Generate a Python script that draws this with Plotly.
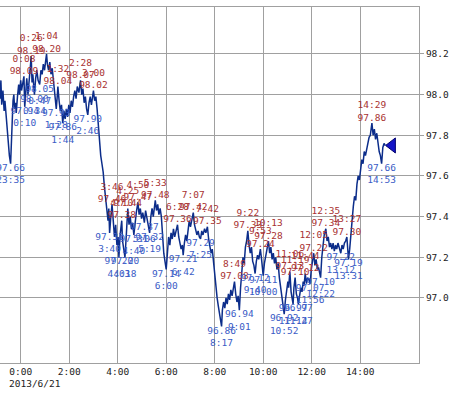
import plotly.graph_objects as go

# ---- price series (time HH:MM, 22:xx/23:xx belong to 2013/6/20) ----
times = [
 "22:50","22:55","22:58","23:02","23:05","23:09","23:11","23:13","23:16","23:19","23:21","23:24","23:27","23:29","23:32","23:35",
 "23:37","23:39","23:41","23:43","23:45","23:47","23:49","23:52","23:55","23:57","0:00","0:02","0:05","0:08","0:10","0:12",
 "0:15","0:18","0:21","0:24","0:26","0:28","0:30","0:34","0:37","0:40","0:43","0:47","0:50","0:53","0:56","0:59",
 "1:02","1:04","1:06","1:09","1:12","1:15","1:18","1:21","1:24","1:28","1:30","1:32","1:35","1:38","1:41","1:44",
 "1:47","1:50","1:53","1:56","1:59","2:02","2:05","2:08","2:11","2:14","2:17","2:20","2:24","2:28","2:31","2:34",
 "2:37","2:40","2:43","2:46","2:49","2:52","2:55","2:58","3:00","3:03","3:06","3:09","3:12","3:15","3:18","3:21",
 "3:24","3:27","3:30","3:33","3:36","3:38","3:40","3:43","3:46","3:49","3:52","3:55","3:58","4:01","4:03","4:06",
 "4:08","4:10","4:12","4:15","4:18","4:21","4:25","4:28","4:31","4:34","4:37","4:40","4:43","4:46","4:50","4:53",
 "4:56","4:59","5:02","5:06","5:09","5:12","5:15","5:19","5:22","5:25","5:28","5:31","5:33","5:36","5:39","5:42",
 "5:45","5:48","5:51","5:54","5:57","6:00","6:03","6:06","6:09","6:12","6:15","6:18","6:21","6:24","6:28","6:31",
 "6:34","6:37","6:40","6:42","6:45","6:48","6:51","6:54","6:57","7:00","7:03","7:07","7:10","7:13","7:16","7:19",
 "7:22","7:25","7:28","7:31","7:35","7:38","7:42","7:45","7:48","7:51","7:54","7:57","8:00","8:03","8:06","8:09",
 "8:12","8:15","8:17","8:19","8:22","8:25","8:28","8:31","8:34","8:37","8:40","8:43","8:46","8:49","8:52","8:55",
 "8:58","9:01","9:04","9:07","9:10","9:13","9:16","9:19","9:22","9:25","9:28","9:31","9:34","9:37","9:40","9:43",
 "9:46","9:49","9:53","9:56","9:58","10:00","10:03","10:06","10:09","10:13","10:16","10:19","10:22","10:25","10:28","10:31",
 "10:34","10:37","10:40","10:43","10:46","10:49","10:52","10:55","10:58","11:01","11:03","11:06","11:09","11:11","11:14","11:16",
 "11:19","11:22","11:25","11:27","11:30","11:33","11:36","11:39","11:41","11:44","11:47","11:50","11:53","11:56","11:59","12:02",
 "12:05","12:08","12:11","12:14","12:17","12:20","12:22","12:25","12:28","12:31","12:35","12:38","12:41","12:44","12:47","12:50",
 "12:53","12:56","12:59","13:02","13:05","13:08","13:12","13:15","13:18","13:21","13:24","13:27","13:29","13:31","13:34","13:37",
 "13:40","13:43","13:46","13:49","13:52","13:55","13:58","14:01","14:04","14:07","14:10","14:13","14:16","14:19","14:22","14:25",
 "14:29","14:32","14:35","14:38","14:41","14:44","14:47","14:50","14:53","14:56","14:59","15:02",
]
prices = [
 97.90,97.72,97.95,98.20,98.05,97.98,98.07,97.95,98.02,97.92,97.97,97.90,97.80,97.74,97.70,97.66,
 97.78,97.86,97.97,98.00,97.93,97.96,97.91,97.99,98.05,98.00,98.07,98.02,98.06,98.09,97.94,98.02,
 98.08,98.00,98.10,98.14,98.19,98.06,98.10,98.00,98.08,98.12,98.07,98.05,98.12,98.10,98.15,98.12,
 98.17,98.20,98.15,98.12,98.16,98.10,98.13,98.06,98.00,97.93,97.98,98.04,97.97,97.92,97.95,97.86,
 97.92,97.88,97.93,97.89,97.95,97.91,97.97,97.94,97.99,98.02,97.98,98.04,98.01,98.07,98.00,98.03,
 97.96,97.99,97.93,97.90,97.96,97.99,97.95,98.00,98.02,97.97,97.99,97.93,97.85,97.75,97.70,97.66,
 97.62,97.55,97.50,97.42,97.38,97.44,97.32,97.40,97.46,97.38,97.30,97.36,97.26,97.30,97.20,97.31,
 97.35,97.38,97.28,97.24,97.20,97.30,97.44,97.36,97.40,97.34,97.37,97.31,97.38,97.42,97.47,97.41,
 97.44,97.39,97.42,97.37,97.43,97.40,97.36,97.32,97.40,97.44,97.40,97.45,97.48,97.43,97.46,97.41,
 97.44,97.40,97.30,97.22,97.18,97.14,97.22,97.30,97.26,97.32,97.29,97.34,97.30,97.33,97.36,97.30,
 97.27,97.24,97.26,97.21,97.27,97.31,97.28,97.34,97.38,97.35,97.39,97.42,97.36,97.33,97.31,97.33,
 97.30,97.29,97.33,97.31,97.34,97.32,97.35,97.29,97.26,97.22,97.24,97.17,97.10,97.05,97.00,96.96,
 96.92,96.90,96.86,96.94,96.98,96.95,97.00,96.97,97.02,96.99,97.04,97.01,97.05,97.08,97.02,96.98,
 97.01,96.94,97.05,97.14,97.20,97.17,97.25,97.28,97.33,97.26,97.22,97.25,97.18,97.16,97.12,97.18,
 97.21,97.19,97.24,97.19,97.15,97.11,97.17,97.21,97.24,97.28,97.22,97.25,97.19,97.22,97.17,97.20,
 97.14,97.17,97.10,97.05,97.00,96.96,96.92,96.99,97.04,97.08,97.05,97.13,97.03,97.00,96.97,97.05,
 97.10,97.02,97.00,96.97,97.02,97.05,97.03,97.08,97.06,97.12,97.07,97.10,97.09,97.07,97.14,97.18,
 97.22,97.16,97.19,97.14,97.15,97.12,97.10,97.20,97.27,97.31,97.34,97.28,97.30,97.25,97.27,97.24,
 97.27,97.23,97.26,97.24,97.27,97.25,97.22,97.26,97.24,97.27,97.28,97.30,97.24,97.19,97.24,97.32,
 97.38,97.45,97.50,97.48,97.56,97.60,97.58,97.64,97.68,97.66,97.72,97.70,97.74,97.76,97.79,97.80,
 97.86,97.80,97.83,97.78,97.81,97.76,97.72,97.70,97.66,97.74,97.76,97.75,
]

# ---- labelled local highs / lows ----
high_times = ["23:02","0:08","0:26","1:04","1:32","2:28","3:00","3:46","4:10","4:25","4:50","5:33",
              "6:28","7:07","7:42","8:49","9:22","9:53","10:13","11:06","11:19","11:44","12:05","12:35","13:27","14:29"]
high_vals = [98.20,98.09,98.19,98.20,98.04,98.07,98.02,97.46,97.38,97.44,97.47,97.48,
             97.36,97.42,97.35,97.08,97.33,97.24,97.28,97.13,97.10,97.12,97.22,97.34,97.30,97.86]
low_times = ["22:55","23:35","0:10","0:34","0:47","1:28","1:44","2:46","3:40","4:03","4:18","4:40","5:06","5:19",
             "6:00","6:42","7:25","8:17","9:01","9:40","10:00","10:52","11:14","11:27","11:56","12:22","13:12","13:31","14:53"]
low_vals = [97.72,97.66,97.94,98.00,98.05,97.93,97.86,97.90,97.32,97.20,97.20,97.31,97.37,97.32,
            97.14,97.21,97.29,96.86,96.94,97.12,97.11,96.92,96.97,96.97,97.07,97.10,97.22,97.19,97.66]

y_ticks = [97.0, 97.2, 97.4, 97.6, 97.8, 98.0, 98.2]
x_ticks = ["0:00", "2:00", "4:00", "6:00", "8:00", "10:00", "12:00", "14:00"]
date_label = "2013/6/21"


def ts(hm):
    h, m = hm.split(":")
    day = "2013-06-20" if int(h) >= 22 else "2013-06-21"
    return f"{day} {int(h):02d}:{m}:00"


FONT = "DejaVu Sans Mono"
RED = "#a83232"
BLUE = "#3a5cc6"

fig = go.Figure()
fig.add_trace(go.Scatter(x=[ts(t) for t in times], y=prices, mode="lines",
                         line=dict(color="#0c2d8a", width=1.5), hoverinfo="skip"))
fig.add_trace(go.Scatter(x=[ts(t) for t in high_times], y=high_vals, mode="text",
                         text=[f"{t}<br>{v:.2f}" for t, v in zip(high_times, high_vals)],
                         textposition="top center", cliponaxis=False,
                         textfont=dict(family=FONT, size=9.5, color=RED)))
fig.add_trace(go.Scatter(x=[ts(t) for t in low_times], y=low_vals, mode="text",
                         text=[f"{v:.2f}<br>{t}" for t, v in zip(low_times, low_vals)],
                         textposition="bottom center", cliponaxis=False,
                         textfont=dict(family=FONT, size=9.5, color=BLUE)))
# current price marker
fig.add_trace(go.Scatter(x=["2013-06-21 15:19:00"], y=[prices[-1]], mode="markers",
                         marker=dict(symbol="triangle-left", size=13, color="#1414c8",
                                     line=dict(color="#00006e", width=1)),
                         cliponaxis=False))

fig.add_annotation(text=date_label, xref="paper", yref="paper", x=7 / 419, y=0,
                   xanchor="left", yanchor="middle", yshift=-20, showarrow=False,
                   font=dict(family=FONT, size=9.5, color="#222"))

fig.update_layout(
    width=460, height=396, showlegend=False, hovermode=False,
    margin=dict(l=0, r=41, t=7, b=33),
    paper_bgcolor="white", plot_bgcolor="white",
    xaxis=dict(type="date", range=["2013-06-20 23:08:47", "2013-06-21 16:25:30"],
               tickvals=[ts(t) for t in x_ticks], ticktext=x_ticks,
               showgrid=True, gridcolor="#a0a0a0", gridwidth=1,
               showline=True, linecolor="#a0a0a0", mirror=True, zeroline=False,
               ticks="", tickfont=dict(family=FONT, size=9.5, color="#222"), automargin=False),
    yaxis=dict(range=[96.68, 98.431], side="right", tickvals=y_ticks,
               ticktext=[f"{v:.1f}" for v in y_ticks],
               showgrid=True, gridcolor="#a0a0a0", gridwidth=1,
               showline=True, linecolor="#a0a0a0", mirror=True, zeroline=False,
               ticks="outside", ticklen=4, tickcolor="#a0a0a0",
               tickfont=dict(family=FONT, size=9.5, color="#222"), automargin=False),
)

fig.write_html("out.html", config={"displayModeBar": False},
               post_script="document.body.style.margin='0';")
